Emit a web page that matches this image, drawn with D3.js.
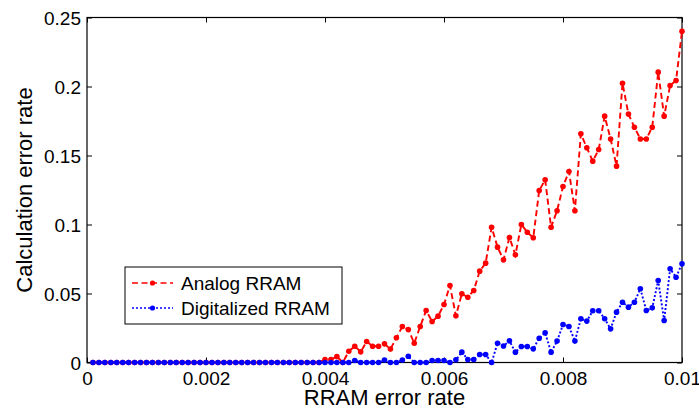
<!DOCTYPE html>
<html>
<head>
<meta charset="utf-8">
<script src="https://d3js.org/d3.v7.min.js"></script>
<style>
  body { margin: 0; background: #fff; }
  svg { display: block; font-family: "Liberation Sans", Arial, sans-serif; }
</style>
</head>
<body>
<svg id="chart" width="699" height="415"></svg>
<script>
// RRAM error rate (x) for every measured point
var errorRates = [
  0.0001,0.0002,0.0003,0.0004,0.0005,0.0006,0.0007,0.0008,0.0009,0.0010,
  0.0011,0.0012,0.0013,0.0014,0.0015,0.0016,0.0017,0.0018,0.0019,0.0020,
  0.0021,0.0022,0.0023,0.0024,0.0025,0.0026,0.0027,0.0028,0.0029,0.0030,
  0.0031,0.0032,0.0033,0.0034,0.0035,0.0036,0.0037,0.0038,0.0039,0.0040,
  0.0041,0.0042,0.0043,0.0044,0.0045,0.0046,0.0047,0.0048,0.0049,0.0050,
  0.0051,0.0052,0.0053,0.0054,0.0055,0.0056,0.0057,0.0058,0.0059,0.0060,
  0.0061,0.0062,0.0063,0.0064,0.0065,0.0066,0.0067,0.0068,0.0069,0.0070,
  0.0071,0.0072,0.0073,0.0074,0.0075,0.0076,0.0077,0.0078,0.0079,0.0080,
  0.0081,0.0082,0.0083,0.0084,0.0085,0.0086,0.0087,0.0088,0.0089,0.0090,
  0.0091,0.0092,0.0093,0.0094,0.0095,0.0096,0.0097,0.0098,0.0099,0.0100
];

var analog = [
  0,0,0,0,0,0,0,0,0,0,
  0,0,0,0,0,0,0,0,0,0,
  0,0,0,0,0,0,0,0,0,0,
  0,0,0,0,0,0,0,0,0,0.0022,
  0.0022,0.0043,0,0.0082,0.0118,0.0077,0.0152,0.0118,0.0118,0.0135,
  0.0097,0.0179,0.0261,0.0239,0.014,0.0261,0.0377,0.0297,0.0336,0.042,
  0.0558,0.0338,0.0498,0.0473,0.0522,0.0662,0.072,0.098,0.0836,0.0744,
  0.0906,0.078,0.100,0.0944,0.0904,0.1246,0.1324,0.098,0.110,0.1275,
  0.1384,0.110,0.1657,0.1556,0.1459,0.1543,0.1785,0.162,0.1423,0.2024,
  0.180,0.1705,0.162,0.162,0.1705,0.2104,0.1785,0.2007,0.2043,0.240
];

var digital = [
  0,0,0,0,0,0,0,0,0,0,
  0,0,0,0,0,0,0,0,0,0,
  0,0,0,0,0,0,0,0,0,0,
  0,0,0,0,0,0,0,0,0,0,
  0,0,0,0,0.0015,0,0,0,0,0.0018,
  0,0,0.0018,0.0045,0,0,0,0.0015,0.0015,0.0015,
  0,0.002,0.0075,0.0022,0.0022,0.0058,0.0058,0,0.014,0.012,
  0.0157,0.0075,0.0116,0.0116,0.0099,0.0176,0.0215,0.0075,0.0155,0.0275,
  0.0261,0.0155,0.0317,0.030,0.0375,0.0375,0.0317,0.0244,0.0365,0.0437,
  0.0401,0.0437,0.0534,0.0377,0.0396,0.0594,0.0304,0.0679,0.0618,0.0715
];

var xTicks = [0, 0.002, 0.004, 0.006, 0.008, 0.01];
var xTickLabels = ["0", "0.002", "0.004", "0.006", "0.008", "0.01"];
var yTicks = [0, 0.05, 0.1, 0.15, 0.2, 0.25];
var yTickLabels = ["0", "0.05", "0.1", "0.15", "0.2", "0.25"];
var seriesNames = ["Analog RRAM", "Digitalized RRAM"];

var svg = d3.select("#chart");
var plotL = 87, plotR = 682, plotT = 17.5, plotB = 362.5;

var x = d3.scaleLinear().domain([0, 0.01]).range([plotL, plotR]);
var y = d3.scaleLinear().domain([0, 0.25]).range([plotB, plotT]);

// inward ticks on all four sides
var gx = svg.append("g").attr("transform", "translate(0," + plotB + ")")
  .call(d3.axisBottom(x).tickValues(xTicks).tickSize(-5).tickPadding(0)
    .tickFormat(function(d, i) { return xTickLabels[i]; }));
var gxt = svg.append("g").attr("transform", "translate(0," + plotT + ")")
  .call(d3.axisTop(x).tickValues(xTicks).tickSize(-5).tickFormat(""));
var gy = svg.append("g").attr("transform", "translate(" + plotL + ",0)")
  .call(d3.axisLeft(y).tickValues(yTicks).tickSize(-5).tickPadding(0)
    .tickFormat(function(d, i) { return yTickLabels[i]; }));
var gyr = svg.append("g").attr("transform", "translate(" + plotR + ",0)")
  .call(d3.axisRight(y).tickValues(yTicks).tickSize(-5).tickFormat(""));

[gx, gxt, gy, gyr].forEach(function(g) {
  g.select(".domain").remove();
  g.selectAll(".tick line").attr("stroke", "#000");
});

gx.selectAll(".tick text")
  .attr("font-size", 19).attr("font-family", "Liberation Sans, Arial, sans-serif")
  .attr("fill", "#000").attr("y", 22.5).attr("dy", 0);
gy.selectAll(".tick text")
  .attr("font-size", 19).attr("font-family", "Liberation Sans, Arial, sans-serif")
  .attr("fill", "#000").attr("x", -6).attr("dy", 6.5);

svg.append("rect")
  .attr("x", plotL).attr("y", plotT)
  .attr("width", plotR - plotL).attr("height", plotB - plotT)
  .attr("fill", "none").attr("stroke", "#000").attr("stroke-width", 1.2);

var line = d3.line()
  .x(function(d, i) { return x(errorRates[i]); })
  .y(function(d) { return y(d); });

function drawSeries(values, color, dash) {
  svg.append("path").datum(values)
    .attr("d", line)
    .attr("fill", "none")
    .attr("stroke", color)
    .attr("stroke-width", 1.9)
    .attr("stroke-dasharray", dash);
  svg.append("g").selectAll("circle")
    .data(values).enter().append("circle")
    .attr("cx", function(d, i) { return x(errorRates[i]); })
    .attr("cy", function(d) { return y(d); })
    .attr("r", 2.8)
    .attr("fill", color);
}

drawSeries(analog, "#ff0000", "6,3.5");
drawSeries(digital, "#0000ff", "2,2");

// axis titles
svg.append("text")
  .attr("x", (plotL + plotR) / 2).attr("y", 405)
  .attr("text-anchor", "middle").attr("font-size", 22)
  .text("RRAM error rate");
svg.append("text")
  .attr("transform", "translate(32," + ((plotT + plotB) / 2) + ") rotate(-90)")
  .attr("text-anchor", "middle").attr("font-size", 22)
  .text("Calculation error rate");

// legend
var legend = svg.append("g");
legend.append("rect")
  .attr("x", 125).attr("y", 267).attr("width", 217).attr("height", 57)
  .attr("fill", "#fff").attr("stroke", "#000");
var legendColors = ["#ff0000", "#0000ff"];
var legendDash = ["6,3.5", "2,2"];
seriesNames.forEach(function(name, i) {
  var ly = 283 + i * 25;
  legend.append("line")
    .attr("x1", 132).attr("x2", 173).attr("y1", ly).attr("y2", ly)
    .attr("stroke", legendColors[i]).attr("stroke-width", 1.6)
    .attr("stroke-dasharray", legendDash[i]);
  legend.append("circle")
    .attr("cx", 152.5).attr("cy", ly).attr("r", 2.6).attr("fill", legendColors[i]);
  legend.append("text")
    .attr("x", 181).attr("y", ly + 7)
    .attr("font-size", 19)
    .text(name);
});
</script>
</body>
</html>
